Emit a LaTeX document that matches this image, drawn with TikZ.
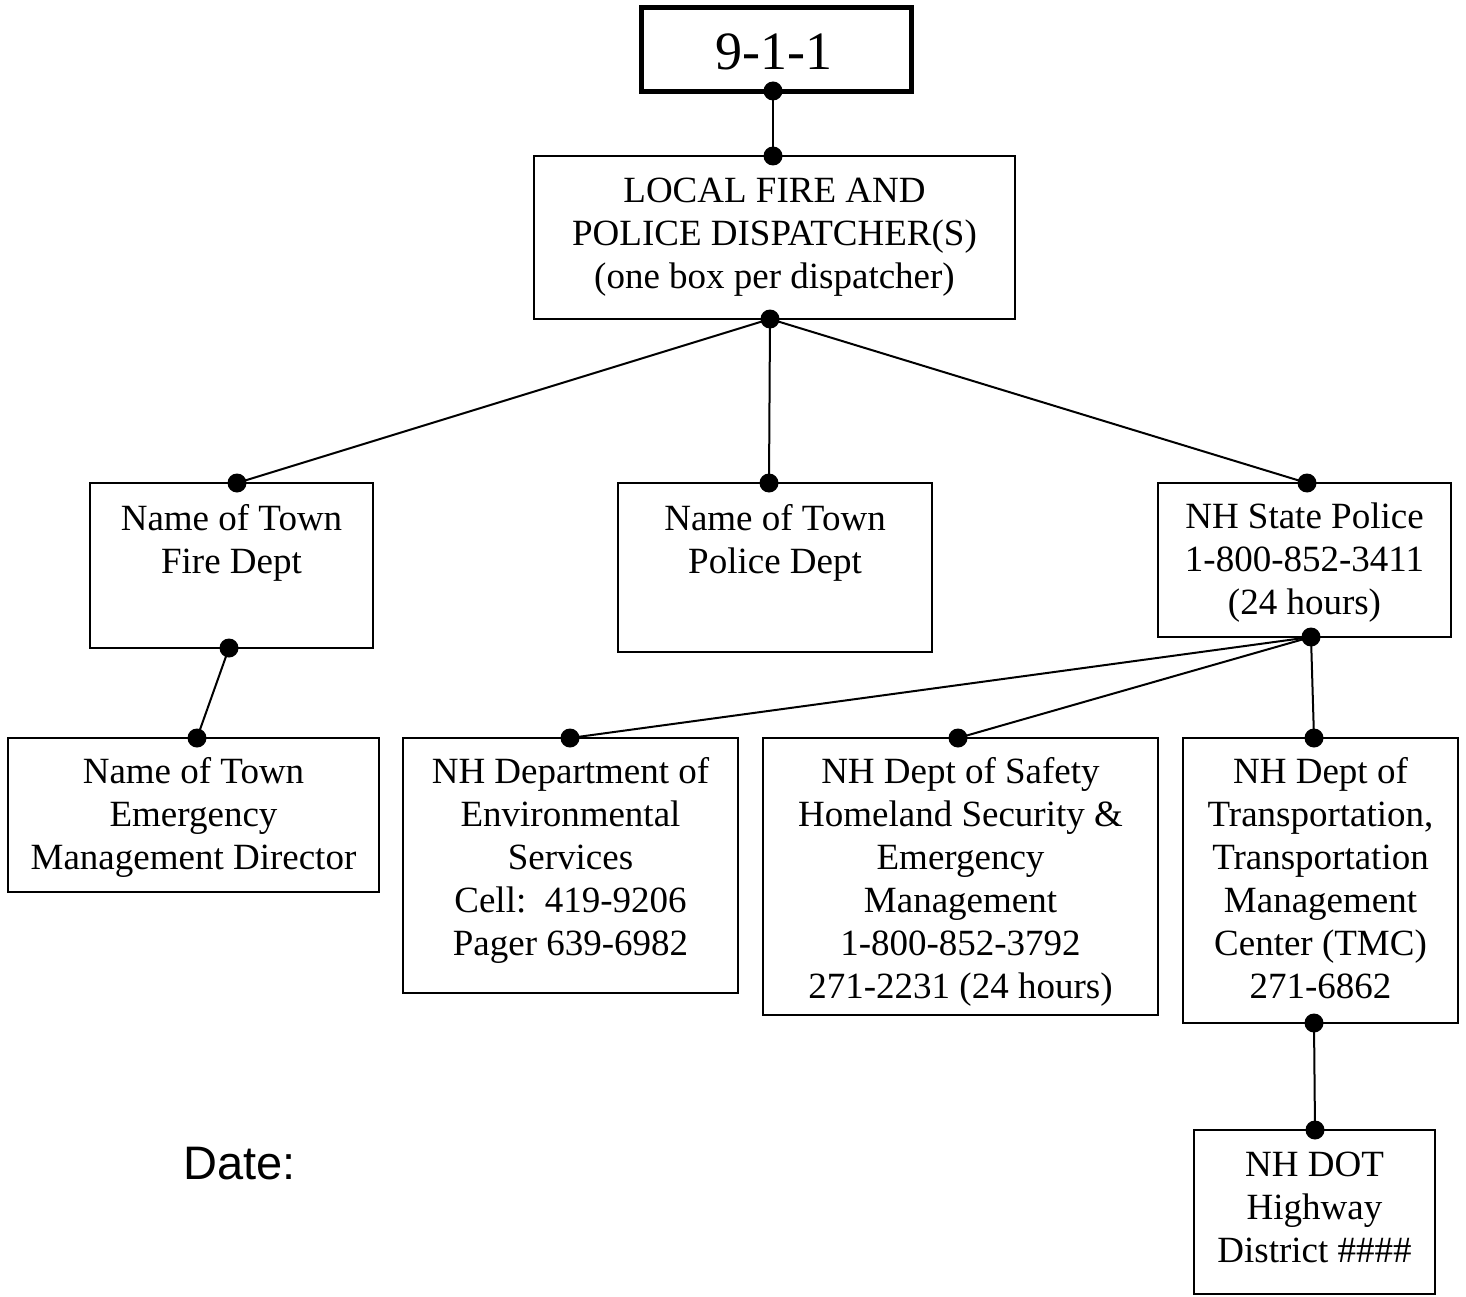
\documentclass[tikz,border=0pt]{standalone}
\usepackage{fontspec}
\setmainfont{Liberation Serif}
\newfontfamily\datefont{Liberation Sans}
\begin{document}
\begin{tikzpicture}[x=1pt,y=-1pt,
  box/.style={draw=black,line width=2.6pt,fill=white,inner sep=0pt,outer sep=0pt,anchor=north west,rectangle},
  bigbox/.style={box,line width=5pt},
  txt/.style={align=center,inner sep=0pt,anchor=north,font=\fontsize{37}{43}\selectfont},
  link/.style={line width=2pt},
  dotfill/.style={fill=black}]
\useasboundingbox (0,0) rectangle (1466,1297);

% boxes
\node[bigbox,minimum width=270pt,minimum height=84pt] (b911) at (641,8) {};
\node[box,minimum width=481pt,minimum height=163pt] (disp) at (534,156) {};
\node[box,minimum width=283pt,minimum height=165pt] (fire) at (90,483) {};
\node[box,minimum width=314pt,minimum height=169pt] (police) at (618,483) {};
\node[box,minimum width=293pt,minimum height=154pt] (state) at (1158,483) {};
\node[box,minimum width=371pt,minimum height=154pt] (emd) at (8,738) {};
\node[box,minimum width=335pt,minimum height=255pt] (des) at (403,738) {};
\node[box,minimum width=395pt,minimum height=277pt] (safety) at (763,738) {};
\node[box,minimum width=275pt,minimum height=285pt] (dot) at (1183,738) {};
\node[box,minimum width=241pt,minimum height=164pt] (hwy) at (1194,1130) {};

% texts
\node[anchor=base,inner sep=0pt,font=\fontsize{54}{60}\selectfont] (t911) at (774,70) {9-1-1};
\node[txt] (tdisp) at (774.5,172) {\strut LOCAL FIRE AND\\POLICE DISPATCHER(S)\\(one box per dispatcher)};
\node[txt] (tfire) at (231.5,500) {\strut Name of Town\\Fire Dept};
\node[txt] (tpolice) at (775,500) {\strut Name of Town\\Police Dept};
\node[txt] (tstate) at (1304.5,498) {\strut NH State Police\\1-800-852-3411\\(24 hours)};
\node[txt] (temd) at (193.5,753) {\strut Name of Town\\Emergency\\Management Director};
\node[txt] (tdes) at (570.5,753) {\strut NH Department of\\Environmental\\Services\\Cell:\ \ 419-9206\\Pager 639-6982};
\node[txt] (tsafety) at (960.5,753) {\strut NH Dept of Safety\\Homeland Security \&\\Emergency\\Management\\1-800-852-3792\\271-2231 (24 hours)};
\node[txt] (tdot) at (1320.5,753) {\strut NH Dept of\\Transportation,\\Transportation\\Management\\Center (TMC)\\271-6862};
\node[txt] (thwy) at (1314.5,1146) {\strut NH DOT\\Highway\\District \#\#\#\#};
\node[anchor=base west,inner sep=0pt,font=\datefont\fontsize{47}{52}\selectfont] (date) at (183,1179) {Date:};

% connection points
\coordinate (p911) at (773,91);
\coordinate (pdispT) at (773,156);
\coordinate (pdispB) at (770,319);
\coordinate (pfireT) at (237,483);
\coordinate (ppoliceT) at (769,483);
\coordinate (pstateT) at (1307,483);
\coordinate (pfireB) at (229,648);
\coordinate (pemdT) at (197,738);
\coordinate (pstateB) at (1311,637);
\coordinate (pdesT) at (570,738);
\coordinate (psafetyT) at (958,738);
\coordinate (pdotT) at (1314,738);
\coordinate (pdotB) at (1314,1023);
\coordinate (phwyT) at (1315,1130);

% connectors
\draw[link] (p911) -- (pdispT);
\draw[link] (pdispB) -- (pfireT);
\draw[link] (pdispB) -- (ppoliceT);
\draw[link] (pdispB) -- (pstateT);
\draw[link] (pfireB) -- (pemdT);
\draw[link] (pstateB) -- (pdesT);
\draw[link] (pstateB) -- (psafetyT);
\draw[link] (pstateB) -- (pdotT);
\draw[link] (pdotB) -- (phwyT);

% dots
\foreach \p in {p911,pdispT,pdispB,pfireT,ppoliceT,pstateT,pfireB,pemdT,pstateB,pdesT,psafetyT,pdotT,pdotB,phwyT}
  \fill[dotfill] (\p) circle (9.5pt);
\end{tikzpicture}
\end{document}
